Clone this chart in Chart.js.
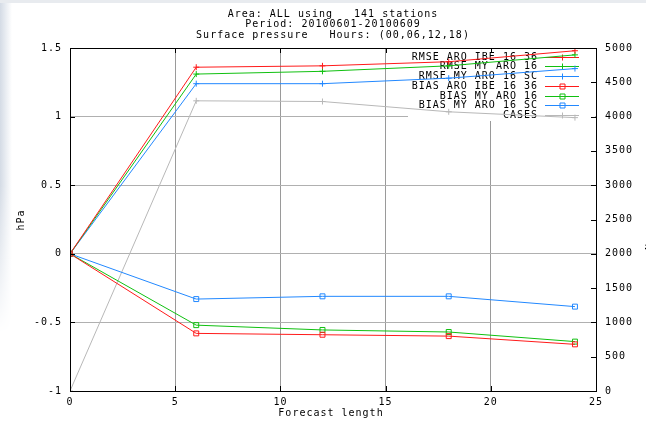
<!DOCTYPE html>
<html>
<head>
<meta charset="utf-8">
<script src="https://cdn.jsdelivr.net/npm/chart.js@4"></script>
<style>
  html, body { margin: 0; padding: 0; background: #fff; }
  #wrap { position: relative; width: 646px; height: 428px; overflow: hidden; }
  #topedge { position: absolute; left: 0; top: 0; width: 646px; height: 3px; background: #e8ebef; }
  #leftedge { position: absolute; left: 0; top: 3px; width: 12px; height: 330px;
    background: linear-gradient(to right, #d4dbe5, #eef1f5 60%, #fff);
    -webkit-mask-image: linear-gradient(to bottom, #000 55%, transparent); }
  canvas { position: absolute; left: 0; top: 0; }
</style>
</head>
<body>
<div id="wrap">
  <div id="topedge"></div>
  <div id="leftedge"></div>
  <canvas id="myChart" width="646" height="428"></canvas>
</div>
<script>
const hours = [0, 6, 12, 18, 24];
const rmseAroIbe = [0, 1.36, 1.37, 1.40, 1.48];
const rmseMyAro = [0, 1.31, 1.33, 1.37, 1.45];
const rmseMyAroSc = [0, 1.24, 1.24, 1.28, 1.35];
const biasAroIbe = [0, -0.58, -0.59, -0.60, -0.66];
const biasMyAro = [0, -0.52, -0.555, -0.57, -0.64];
const biasMyAroSc = [0, -0.33, -0.31, -0.31, -0.385];
const cases = [0, 4230, 4220, 4070, 3985];

const titleLines = ['Area: ALL using   141 stations', 'Period: 20100601-20100609', 'Surface pressure   Hours: (00,06,12,18)'];
const xTitle = 'Forecast length';
const yTitle = 'hPa';
const y2Title = 'No cases';

const FONT = '10px "DejaVu Sans Mono"';
Chart.defaults.font.family = '"DejaVu Sans Mono"';
Chart.defaults.font.size = 10;
Chart.defaults.color = '#000';

function pts(vals) {
    return hours.map((h, i) => ({ x: h, y: vals[i] }));
}

function series(label, vals, color, style, axis) {
    return {
        label: label,
        data: pts(vals),
        borderColor: color,
        borderWidth: 1,
        pointStyle: style,
        pointRadius: style === 'rect' ? 3.5 : 3,
        pointBorderColor: color,
        pointBorderWidth: 1,
        pointBackgroundColor: 'transparent',
        backgroundColor: 'transparent',
        fill: false,
        tension: 0,
        yAxisID: axis || 'y'
    };
}

// gnuplot style extras: key, border, inward tics, titles
const gnuFrame = {
    id: 'gnuFrame',
    beforeDraw(chart) {
        chart.ctx.letterSpacing = '1px';
    },
    beforeDatasetsDraw(chart) {
        const ctx = chart.ctx;
        const a = chart.chartArea;
        ctx.save();
        ctx.fillStyle = '#fff';
        ctx.fillRect(408, a.top + 1, a.right - 409, 72);
        ctx.font = FONT;
        ctx.letterSpacing = '1px';
        ctx.textAlign = 'right';
        ctx.textBaseline = 'middle';
        chart.data.datasets.forEach((ds, i) => {
            const y = 56.5 + i * 9.75;
            ctx.fillStyle = '#000';
            ctx.fillText(ds.label, 538, y + 0.5);
            ctx.strokeStyle = ds.borderColor;
            ctx.lineWidth = 1;
            ctx.beginPath();
            ctx.moveTo(545, Math.round(y) + 0.5);
            ctx.lineTo(579, Math.round(y) + 0.5);
            ctx.stroke();
            const mx = 562.5, my = Math.round(y) + 0.5;
            ctx.beginPath();
            if (ds.pointStyle === 'rect') {
                ctx.rect(mx - 2.5, my - 2.5, 5, 5);
            } else {
                ctx.moveTo(mx - 3, my); ctx.lineTo(mx + 3, my);
                ctx.moveTo(mx, my - 3); ctx.lineTo(mx, my + 3);
            }
            ctx.stroke();
        });
        ctx.restore();
    },
    afterDraw(chart) {
        const ctx = chart.ctx;
        const a = chart.chartArea;
        const sx = chart.scales.x, sy = chart.scales.y, sy2 = chart.scales.y2;
        ctx.save();
        ctx.strokeStyle = '#000';
        ctx.lineWidth = 1;
        ctx.strokeRect(Math.round(a.left) + 0.5, Math.round(a.top) + 0.5,
            Math.round(a.right - a.left), Math.round(a.bottom - a.top));
        ctx.beginPath();
        sx.ticks.forEach(t => {
            const px = Math.round(sx.getPixelForValue(t.value)) + 0.5;
            ctx.moveTo(px, a.bottom); ctx.lineTo(px, a.bottom - 5);
            ctx.moveTo(px, a.top); ctx.lineTo(px, a.top + 5);
        });
        sy.ticks.forEach(t => {
            const py = Math.round(sy.getPixelForValue(t.value)) + 0.5;
            ctx.moveTo(a.left, py); ctx.lineTo(a.left + 5, py);
        });
        sy2.ticks.forEach(t => {
            const py = Math.round(sy2.getPixelForValue(t.value)) + 0.5;
            ctx.moveTo(a.right, py); ctx.lineTo(a.right - 5, py);
        });
        ctx.stroke();

        ctx.fillStyle = '#000';
        ctx.font = FONT;
        ctx.letterSpacing = '1px';
        ctx.textAlign = 'center';
        ctx.textBaseline = 'middle';
        titleLines.forEach((t, i) => ctx.fillText(t, 333, 14 + i * 10.5));
        ctx.fillText(xTitle, 331, 413);

        ctx.save();
        ctx.translate(21, 220);
        ctx.rotate(-Math.PI / 2);
        ctx.fillText(yTitle, 0, 0);
        ctx.restore();

        ctx.save();
        ctx.translate(650, 222);
        ctx.rotate(-Math.PI / 2);
        ctx.fillText(y2Title, 0, 0);
        ctx.restore();
        ctx.restore();
    }
};

const edgeGrid = (color) => (c) => {
    const s = c.scale;
    if (c.tick.value === s.min || c.tick.value === s.max) return 'rgba(0,0,0,0)';
    return color;
};

const ctx = document.getElementById('myChart');
const myChart = new Chart(ctx, {
    type: 'line',
    data: {
        datasets: [
            series('RMSE ARO IBE 16 36', rmseAroIbe, '#ff1a1a', 'cross'),
            series('RMSE MY ARO 16', rmseMyAro, '#10c010', 'cross'),
            series('RMSE MY ARO 16 SC', rmseMyAroSc, '#2288ff', 'cross'),
            series('BIAS ARO IBE 16 36', biasAroIbe, '#ff1a1a', 'rect'),
            series('BIAS MY ARO 16', biasMyAro, '#10c010', 'rect'),
            series('BIAS MY ARO 16 SC', biasMyAroSc, '#2288ff', 'rect'),
            series('CASES', cases, '#b8b8b8', 'cross', 'y2')
        ]
    },
    options: {
        responsive: false,
        animation: false,
        devicePixelRatio: 1,
        layout: { padding: { top: 48, left: 0, right: 0, bottom: 0 } },
        plugins: {
            legend: { display: false },
            title: { display: false },
            tooltip: { enabled: false }
        },
        scales: {
            x: {
                type: 'linear',
                min: 0,
                max: 25,
                ticks: { stepSize: 5, padding: 5, maxRotation: 0 },
                grid: { color: edgeGrid('#9a9a9a'), drawTicks: false },
                border: { display: false },
                afterFit: (s) => { s.height = 37; }
            },
            y: {
                position: 'left',
                min: -1,
                max: 1.5,
                ticks: { stepSize: 0.5, padding: 8, callback: (v) => String(v) },
                grid: { color: edgeGrid('#b0b0b0'), drawTicks: false },
                border: { display: false },
                afterFit: (s) => { s.width = 70; }
            },
            y2: {
                position: 'right',
                min: 0,
                max: 5000,
                ticks: { stepSize: 500, padding: 9, callback: (v) => String(v) },
                grid: { display: false, drawTicks: false },
                border: { display: false },
                afterFit: (s) => { s.width = 50; }
            }
        }
    },
    plugins: [gnuFrame]
});
</script>
</body>
</html>
